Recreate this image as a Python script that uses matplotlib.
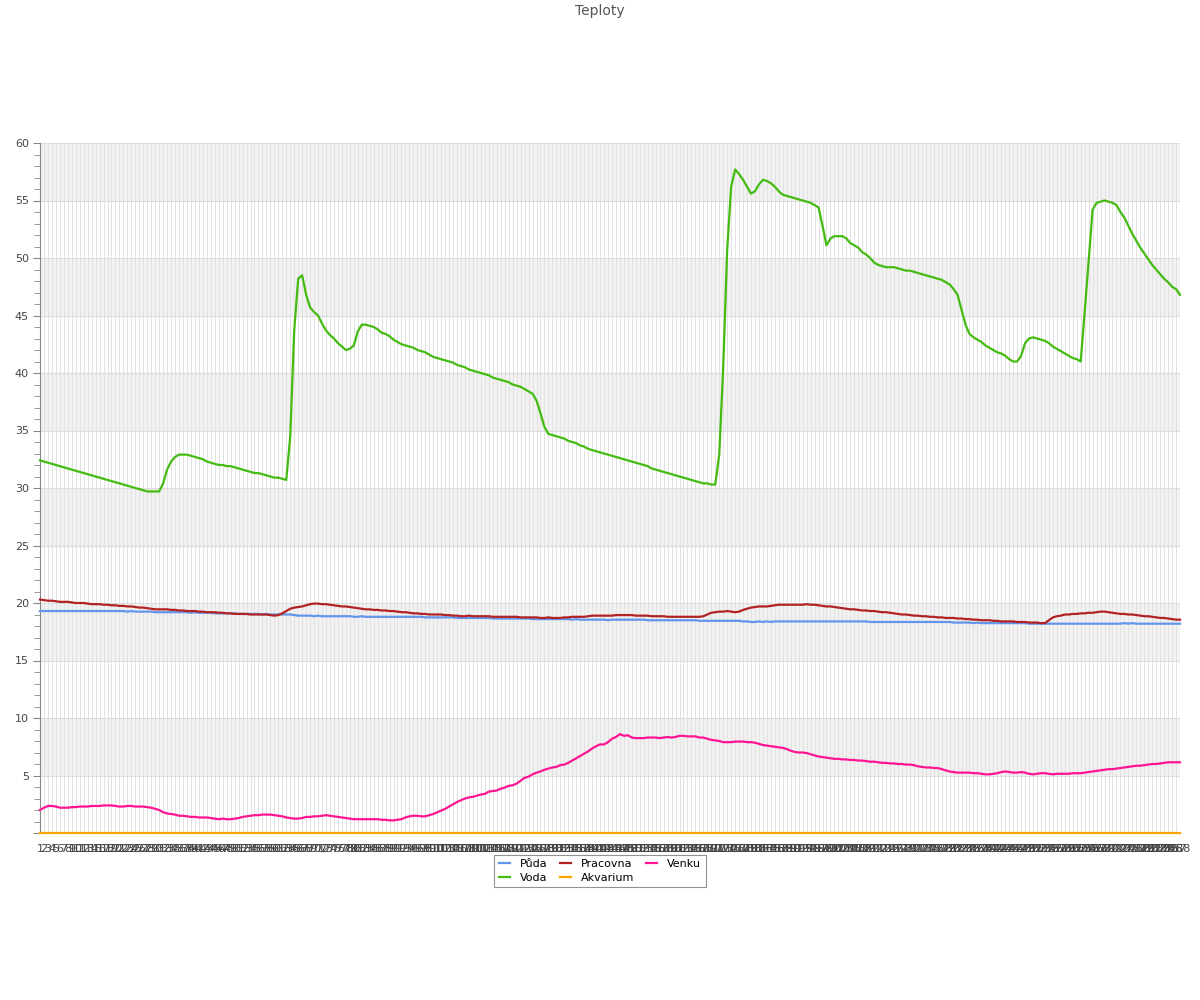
import matplotlib
matplotlib.use("Agg")
import matplotlib.pyplot as plt
from matplotlib.ticker import MultipleLocator

plt.rcParams['font.family'] = ['DejaVu Sans']

title = "Teploty"
series_names = ["Půda", "Voda", "Pracovna", "Akvarium", "Venku"]
series_colors = ["#6495ed", "#44bb11", "#b22222", "#ffa500", "#ff1493"]

voda = [
    32.4, 32.3, 32.2, 32.1, 32.0, 31.9, 31.8, 31.7, 31.6, 31.5,
    31.4, 31.3, 31.2, 31.1, 31.0, 30.9, 30.8, 30.7, 30.6, 30.5,
    30.4, 30.3, 30.2, 30.1, 30.0, 29.9, 29.8, 29.7, 29.7, 29.7,
    29.7, 30.4, 31.6, 32.3, 32.7, 32.9, 32.9, 32.9, 32.8, 32.7,
    32.6, 32.5, 32.3, 32.2, 32.1, 32.0, 32.0, 31.9, 31.9, 31.8,
    31.7, 31.6, 31.5, 31.4, 31.3, 31.3, 31.2, 31.1, 31.0, 30.9,
    30.9, 30.8, 30.7, 34.5, 43.7, 48.2, 48.5, 46.8, 45.7, 45.3,
    45.0, 44.3, 43.7, 43.3, 43.0, 42.6, 42.3, 42.0, 42.1, 42.4,
    43.6, 44.2, 44.2, 44.1, 44.0, 43.8, 43.5, 43.4, 43.2, 42.9,
    42.7, 42.5, 42.4, 42.3, 42.2, 42.0, 41.9, 41.8, 41.6, 41.4,
    41.3, 41.2, 41.1, 41.0, 40.9, 40.7, 40.6, 40.5, 40.3, 40.2,
    40.1, 40.0, 39.9, 39.8, 39.6, 39.5, 39.4, 39.3, 39.2, 39.0,
    38.9, 38.8, 38.6, 38.4, 38.2, 37.6, 36.5, 35.3, 34.7, 34.6,
    34.5, 34.4, 34.3, 34.1, 34.0, 33.9, 33.7, 33.6, 33.4, 33.3,
    33.2, 33.1, 33.0, 32.9, 32.8, 32.7, 32.6, 32.5, 32.4, 32.3,
    32.2, 32.1, 32.0, 31.9, 31.7, 31.6, 31.5, 31.4, 31.3, 31.2,
    31.1, 31.0, 30.9, 30.8, 30.7, 30.6, 30.5, 30.4, 30.4, 30.3,
    30.3, 32.9, 40.5, 50.7, 56.2, 57.7, 57.3, 56.8, 56.2, 55.6,
    55.8, 56.4, 56.8, 56.7, 56.5, 56.2, 55.8, 55.5, 55.4, 55.3,
    55.2, 55.1, 55.0, 54.9, 54.8, 54.6, 54.4, 52.8, 51.1, 51.7,
    51.9, 51.9, 51.9, 51.7, 51.3, 51.1, 50.9, 50.5, 50.3, 50.0,
    49.6, 49.4, 49.3, 49.2, 49.2, 49.2, 49.1, 49.0, 48.9, 48.9,
    48.8, 48.7, 48.6, 48.5, 48.4, 48.3, 48.2, 48.1, 47.9, 47.7,
    47.3, 46.8, 45.5, 44.2, 43.4, 43.1, 42.9, 42.7, 42.4, 42.2,
    42.0, 41.8, 41.7, 41.5, 41.2, 41.0, 41.0, 41.5, 42.6, 43.0,
    43.1, 43.0, 42.9, 42.8, 42.6, 42.3, 42.1, 41.9, 41.7, 41.5,
    41.3, 41.2, 41.0, 45.3, 49.8, 54.2, 54.8, 54.9, 55.0, 54.9,
    54.8, 54.6, 54.0, 53.5, 52.8, 52.1, 51.5, 50.9, 50.4, 49.9,
    49.4, 49.0, 48.6, 48.2, 47.9, 47.5, 47.3, 46.8,
]

puda = [
    19.3, 19.3, 19.3, 19.3, 19.3, 19.3, 19.3, 19.3, 19.3, 19.3,
    19.3, 19.3, 19.3, 19.3, 19.3, 19.3, 19.3, 19.3, 19.3, 19.3,
    19.3, 19.3, 19.25, 19.3, 19.25, 19.25, 19.25, 19.25, 19.25, 19.2,
    19.2, 19.2, 19.2, 19.2, 19.2, 19.2, 19.2, 19.2, 19.15, 19.2,
    19.15, 19.15, 19.15, 19.15, 19.1, 19.1, 19.1, 19.1, 19.1, 19.1,
    19.05, 19.05, 19.05, 19.05, 19.05, 19.05, 19.0, 19.05, 19.0, 19.0,
    19.0, 19.0, 19.0, 19.0, 18.95, 18.9, 18.9, 18.9, 18.9, 18.85,
    18.9, 18.85, 18.85, 18.85, 18.85, 18.85, 18.85, 18.85, 18.85, 18.8,
    18.8, 18.85, 18.8, 18.8, 18.8, 18.8, 18.8, 18.8, 18.8, 18.8,
    18.8, 18.8, 18.8, 18.8, 18.8, 18.8, 18.8, 18.75, 18.75, 18.75,
    18.75, 18.75, 18.75, 18.75, 18.75, 18.7, 18.7, 18.7, 18.7, 18.7,
    18.7, 18.7, 18.7, 18.7, 18.65, 18.65, 18.65, 18.65, 18.65, 18.65,
    18.65, 18.65, 18.65, 18.65, 18.6, 18.6, 18.6, 18.6, 18.6, 18.6,
    18.6, 18.6, 18.6, 18.6, 18.55, 18.6, 18.55, 18.55, 18.55, 18.55,
    18.55, 18.55, 18.55, 18.5, 18.55, 18.55, 18.55, 18.55, 18.55, 18.55,
    18.55, 18.55, 18.55, 18.5, 18.5, 18.5, 18.5, 18.5, 18.5, 18.5,
    18.5, 18.5, 18.5, 18.5, 18.5, 18.5, 18.45, 18.45, 18.45, 18.45,
    18.45, 18.45, 18.45, 18.45, 18.45, 18.45, 18.45, 18.4, 18.4, 18.35,
    18.35, 18.4, 18.35, 18.4, 18.35, 18.4, 18.4, 18.4, 18.4, 18.4,
    18.4, 18.4, 18.4, 18.4, 18.4, 18.4, 18.4, 18.4, 18.4, 18.4,
    18.4, 18.4, 18.4, 18.4, 18.4, 18.4, 18.4, 18.4, 18.4, 18.35,
    18.35, 18.35, 18.35, 18.35, 18.35, 18.35, 18.35, 18.35, 18.35, 18.35,
    18.35, 18.35, 18.35, 18.35, 18.35, 18.35, 18.35, 18.35, 18.35, 18.35,
    18.3, 18.3, 18.3, 18.3, 18.3, 18.25, 18.3, 18.25, 18.25, 18.25,
    18.25, 18.25, 18.25, 18.25, 18.25, 18.25, 18.25, 18.25, 18.25, 18.2,
    18.2, 18.2, 18.2, 18.2, 18.2, 18.2, 18.2, 18.2, 18.2, 18.2,
    18.2, 18.2, 18.2, 18.2, 18.2, 18.2, 18.2, 18.2, 18.2, 18.2,
    18.2, 18.2, 18.2, 18.25, 18.2, 18.25, 18.2, 18.2, 18.2, 18.2,
    18.2, 18.2, 18.2, 18.2, 18.2, 18.2, 18.2, 18.2,
]

pracovna = [
    20.3, 20.25, 20.2, 20.2, 20.15, 20.1, 20.1, 20.1, 20.05, 20.0,
    20.0, 20.0, 19.95, 19.9, 19.9, 19.9, 19.85, 19.85, 19.8, 19.8,
    19.75, 19.75, 19.7, 19.7, 19.65, 19.6, 19.6, 19.55, 19.5, 19.45,
    19.45, 19.45, 19.45, 19.4, 19.4, 19.35, 19.35, 19.3, 19.3, 19.3,
    19.25, 19.25, 19.2, 19.2, 19.2, 19.15, 19.15, 19.1, 19.1, 19.05,
    19.05, 19.05, 19.05, 19.0, 19.0, 19.0, 19.0, 19.0, 18.95, 18.9,
    18.95, 19.1, 19.3, 19.5, 19.6, 19.65, 19.7, 19.8, 19.9, 19.95,
    19.95, 19.9, 19.9, 19.85, 19.8, 19.75, 19.7, 19.7, 19.65, 19.6,
    19.55, 19.5, 19.45, 19.45, 19.4, 19.4, 19.35, 19.35, 19.3, 19.3,
    19.25, 19.2, 19.2, 19.15, 19.1, 19.1, 19.05, 19.05, 19.0, 19.0,
    19.0, 19.0, 18.95, 18.95, 18.9, 18.9, 18.85, 18.85, 18.9, 18.85,
    18.85, 18.85, 18.85, 18.85, 18.8, 18.8, 18.8, 18.8, 18.8, 18.8,
    18.8, 18.75, 18.75, 18.75, 18.75, 18.75, 18.7, 18.7, 18.75, 18.7,
    18.7, 18.7, 18.75, 18.75, 18.8, 18.8, 18.8, 18.8, 18.85, 18.9,
    18.9, 18.9, 18.9, 18.9, 18.9, 18.95, 18.95, 18.95, 18.95, 18.95,
    18.9, 18.9, 18.9, 18.9, 18.85, 18.85, 18.85, 18.85, 18.8, 18.8,
    18.8, 18.8, 18.8, 18.8, 18.8, 18.8, 18.8, 18.85, 19.0, 19.15,
    19.2, 19.25, 19.25, 19.3, 19.25, 19.2, 19.25, 19.4, 19.5, 19.6,
    19.65, 19.7, 19.7, 19.7, 19.75, 19.8, 19.85, 19.85, 19.85, 19.85,
    19.85, 19.85, 19.85, 19.9, 19.85, 19.85, 19.8, 19.75, 19.7, 19.7,
    19.65, 19.6, 19.55, 19.5, 19.45, 19.45, 19.4, 19.35, 19.35, 19.3,
    19.3, 19.25, 19.2, 19.2, 19.15, 19.1, 19.05, 19.0, 19.0, 18.95,
    18.9, 18.9, 18.85, 18.85, 18.8, 18.8, 18.75, 18.75, 18.7, 18.7,
    18.7, 18.65, 18.65, 18.6, 18.6, 18.55, 18.55, 18.5, 18.5, 18.5,
    18.45, 18.45, 18.4, 18.4, 18.4, 18.4, 18.35, 18.35, 18.35, 18.3,
    18.3, 18.3, 18.25, 18.25, 18.5, 18.75, 18.85, 18.9, 19.0, 19.0,
    19.05, 19.05, 19.1, 19.1, 19.15, 19.15, 19.2, 19.25, 19.25, 19.2,
    19.15, 19.1, 19.05, 19.05, 19.0, 19.0, 18.95, 18.9, 18.85, 18.85,
    18.8, 18.75, 18.7, 18.7, 18.65, 18.6, 18.55, 18.55,
]

venku = [
    2.0, 2.2, 2.35, 2.35, 2.3, 2.2, 2.2, 2.2, 2.25, 2.25,
    2.3, 2.3, 2.3, 2.35, 2.35, 2.35, 2.4, 2.4, 2.4, 2.35,
    2.3, 2.3, 2.35, 2.35, 2.3, 2.3, 2.3, 2.25, 2.2, 2.1,
    2.0, 1.8, 1.7, 1.65, 1.6, 1.5, 1.5, 1.45, 1.4, 1.4,
    1.35, 1.35, 1.35, 1.3, 1.25, 1.2, 1.25, 1.2, 1.2, 1.25,
    1.3, 1.4, 1.45, 1.5, 1.55, 1.55, 1.6, 1.6, 1.6, 1.55,
    1.5, 1.45, 1.35, 1.3, 1.25, 1.25, 1.3, 1.4, 1.4, 1.45,
    1.45, 1.5, 1.55, 1.5, 1.45, 1.4, 1.35, 1.3, 1.25, 1.2,
    1.2, 1.2, 1.2, 1.2, 1.2, 1.2, 1.15, 1.15, 1.1, 1.1,
    1.15, 1.2, 1.35, 1.45, 1.5, 1.5, 1.45, 1.45, 1.55, 1.65,
    1.8, 1.95, 2.1, 2.3, 2.5, 2.7, 2.85, 3.0, 3.1, 3.15,
    3.25, 3.35, 3.4, 3.6, 3.65, 3.7, 3.85, 3.95, 4.1, 4.15,
    4.3, 4.55, 4.8, 4.9, 5.1, 5.25, 5.35, 5.5, 5.6, 5.7,
    5.75, 5.9, 5.95, 6.1, 6.3, 6.5, 6.7, 6.9, 7.1, 7.35,
    7.55, 7.7, 7.7, 7.9, 8.2, 8.35, 8.6, 8.45, 8.5, 8.3,
    8.25, 8.25, 8.25, 8.3, 8.3, 8.3, 8.25, 8.3, 8.35, 8.3,
    8.35, 8.45, 8.45, 8.4, 8.4, 8.4, 8.3, 8.3, 8.2, 8.1,
    8.05, 8.0, 7.9, 7.9, 7.9, 7.95, 7.95, 7.95, 7.9, 7.9,
    7.85, 7.75, 7.65, 7.6, 7.55, 7.5, 7.45, 7.4, 7.3, 7.15,
    7.05, 7.0, 7.0, 6.95, 6.85, 6.75, 6.65, 6.6, 6.55, 6.5,
    6.45, 6.45, 6.4, 6.4, 6.35, 6.35, 6.3, 6.3, 6.25, 6.2,
    6.2, 6.15, 6.1, 6.1, 6.05, 6.05, 6.0, 6.0, 5.95, 5.95,
    5.9, 5.8, 5.75, 5.7, 5.7, 5.65, 5.65, 5.55, 5.45, 5.35,
    5.3, 5.25, 5.25, 5.25, 5.25, 5.2, 5.2, 5.15, 5.1, 5.1,
    5.15, 5.2, 5.3, 5.35, 5.3, 5.25, 5.25, 5.3, 5.25, 5.15,
    5.1, 5.15, 5.2, 5.2, 5.15, 5.1, 5.15, 5.15, 5.15, 5.15,
    5.2, 5.2, 5.2, 5.25, 5.3, 5.35, 5.4, 5.45, 5.5, 5.55,
    5.55, 5.6, 5.65, 5.7, 5.75, 5.8, 5.85, 5.85, 5.9, 5.95,
    6.0, 6.0, 6.05, 6.1, 6.15, 6.15, 6.15, 6.15,
]

akvarium = [
    0, 0, 0, 0, 0, 0, 0, 0, 0, 0, 0, 0, 0, 0, 0, 0, 0, 0, 0, 0, 0, 0, 0, 0,
    0, 0, 0, 0, 0, 0, 0, 0, 0, 0, 0, 0, 0, 0, 0, 0, 0, 0, 0, 0, 0, 0, 0, 0,
    0, 0, 0, 0, 0, 0, 0, 0, 0, 0, 0, 0, 0, 0, 0, 0, 0, 0, 0, 0, 0, 0, 0, 0,
    0, 0, 0, 0, 0, 0, 0, 0, 0, 0, 0, 0, 0, 0, 0, 0, 0, 0, 0, 0, 0, 0, 0, 0,
    0, 0, 0, 0, 0, 0, 0, 0, 0, 0, 0, 0, 0, 0, 0, 0, 0, 0, 0, 0, 0, 0, 0, 0,
    0, 0, 0, 0, 0, 0, 0, 0, 0, 0, 0, 0, 0, 0, 0, 0, 0, 0, 0, 0, 0, 0, 0, 0,
    0, 0, 0, 0, 0, 0, 0, 0, 0, 0, 0, 0, 0, 0, 0, 0, 0, 0, 0, 0, 0, 0, 0, 0,
    0, 0, 0, 0, 0, 0, 0, 0, 0, 0, 0, 0, 0, 0, 0, 0, 0, 0, 0, 0, 0, 0, 0, 0,
    0, 0, 0, 0, 0, 0, 0, 0, 0, 0, 0, 0, 0, 0, 0, 0, 0, 0, 0, 0, 0, 0, 0, 0,
    0, 0, 0, 0, 0, 0, 0, 0, 0, 0, 0, 0, 0, 0, 0, 0, 0, 0, 0, 0, 0, 0, 0, 0,
    0, 0, 0, 0, 0, 0, 0, 0, 0, 0, 0, 0, 0, 0, 0, 0, 0, 0, 0, 0, 0, 0, 0, 0,
    0, 0, 0, 0, 0, 0, 0, 0, 0, 0, 0, 0, 0, 0, 0, 0, 0, 0, 0, 0, 0, 0, 0, 0,
]

x_labels = [str(k) for k in range(1, len(voda) + 1)]

series = {"Půda": puda, "Voda": voda, "Pracovna": pracovna,
          "Akvarium": akvarium, "Venku": venku}
draw_order = ["Půda", "Voda", "Pracovna", "Akvarium", "Venku"]

fig = plt.figure(figsize=(12, 10), dpi=100)
ax = fig.add_axes([40 / 1200, 1 - 833 / 1000, 1140 / 1200, 690 / 1000])

n = len(voda)
xs = list(range(n))
ax.set_xlim(0, n - 1)
ax.set_ylim(0, 60)

# alternating background bands
for lo in range(5, 60, 10):
    ax.axhspan(lo, lo + 5, color="#f2f2f2", zorder=0, lw=0)

ax.set_xticks(xs)
ax.set_xticklabels(x_labels, fontsize=8, color="#444444")
ax.yaxis.set_major_locator(MultipleLocator(5))
ax.yaxis.set_minor_locator(MultipleLocator(1))
ax.grid(True, which="major", axis="x", color="#e2e2e2", lw=0.75, zorder=0.5)
ax.grid(True, which="major", axis="y", color="#dcdcdc", lw=0.75, zorder=0.5)
ax.set_axisbelow(True)
ax.tick_params(axis="x", length=0, pad=8)
ax.tick_params(axis="y", which="major", length=5, color="#888888",
               labelsize=8, labelcolor="#444444", pad=3)
ax.tick_params(axis="y", which="minor", length=4, color="#888888")
yt = list(range(0, 61, 5))
ax.set_yticks(yt)
ax.set_yticklabels([""] + [str(v) for v in yt[1:]])

for s in ["top", "right", "bottom"]:
    ax.spines[s].set_visible(False)
ax.spines["left"].set_color("#888888")

handles = {}
for name in draw_order:
    color = series_colors[series_names.index(name)]
    (ln,) = ax.plot(xs, series[name], color=color, lw=1.6, zorder=3,
                    solid_joinstyle="round", clip_on=False)
    handles[name] = ln

fig.text(0.5, 1 - 11 / 1000, title, ha="center", va="center",
         fontsize=10, color="#555555")

leg = fig.legend([handles[k] for k in series_names], series_names,
                 loc="upper center", bbox_to_anchor=(0.5, 1 - 849 / 1000),
                 ncol=3, fontsize=8, frameon=True, fancybox=False,
                 handlelength=1.0, handletextpad=0.9, columnspacing=1.1,
                 borderpad=0.4, labelspacing=0.35)
leg.get_frame().set_edgecolor("#777777")
leg.get_frame().set_linewidth(0.8)

fig.savefig("out.png", dpi=100)
